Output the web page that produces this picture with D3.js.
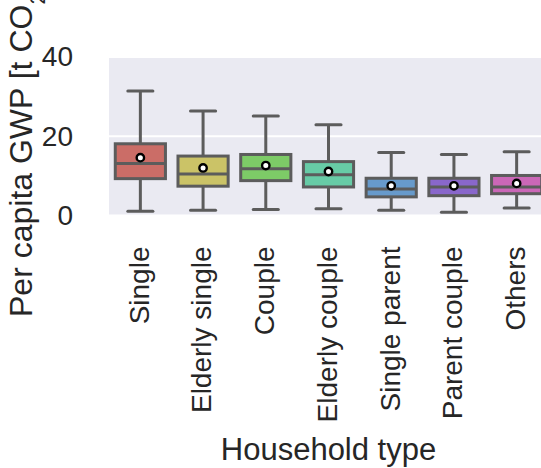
<!DOCTYPE html>
<html>
<head>
<meta charset="utf-8">
<script src="https://cdn.jsdelivr.net/npm/d3@7/dist/d3.min.js"></script>
<style>
  html, body { margin: 0; padding: 0; background: #ffffff; }
  svg { display: block; }
  text { font-family: "Liberation Sans", Arial, sans-serif; fill: #262626; }
</style>
</head>
<body>
<svg id="chart" width="541" height="468"></svg>
<script>
// Household categories and per-capita GWP box statistics (t CO2-eq)
const categories = ["Single", "Elderly single", "Couple", "Elderly couple", "Single parent", "Parent couple", "Others"];
const whiskerLow  = [1.1, 1.3, 1.5, 1.7, 1.3, 0.8, 1.9];
const quartile1   = [9.3, 7.4, 8.8, 7.2, 4.7, 5.0, 5.5];
const medians     = [13.1, 10.5, 11.8, 10.3, 6.7, 7.2, 7.2];
const quartile3   = [18.1, 15.0, 15.4, 13.6, 9.4, 9.4, 10.1];
const whiskerHigh = [31.4, 26.4, 25.1, 22.9, 15.9, 15.4, 16.1];
const means       = [14.6, 12.0, 12.6, 11.1, 7.5, 7.5, 8.1];
const yTicks      = [0, 20, 40];
const boxColors   = ["#cb6d67", "#cbc367", "#7dcb67", "#67cba6", "#679acb", "#8967cb", "#cb67b7"];

const svg = d3.select("#chart");
const plot = { left: 109, right: 548, top: 57, bottom: 215.5 };
const lineColor = "#5c5c5c";

const x = d3.scaleBand().domain(categories).range([plot.left, plot.right]).padding(0);
const y = d3.scaleLinear().domain([0, 40]).range([plot.bottom, plot.top]);

// plot background (seaborn darkgrid style)
svg.append("rect")
  .attr("x", plot.left).attr("y", plot.top)
  .attr("width", plot.right - plot.left).attr("height", plot.bottom - plot.top)
  .attr("fill", "#eaeaf2");

// horizontal grid lines
svg.append("g").selectAll("line").data(yTicks).join("line")
  .attr("x1", plot.left).attr("x2", plot.right)
  .attr("y1", d => y(d)).attr("y2", d => y(d))
  .attr("stroke", "#ffffff").attr("stroke-width", 2);

// y axis tick labels
const yAxis = d3.axisLeft(y).tickValues(yTicks).tickSize(0).tickPadding(36).tickFormat(d3.format("d"));
const yg = svg.append("g").attr("transform", `translate(${plot.left},0)`).call(yAxis);
yg.select(".domain").remove();
yg.selectAll("text").attr("font-size", 28).attr("fill", "#262626")
  .attr("font-family", "'Liberation Sans', Arial, sans-serif");

// x axis tick labels, rotated
const xAxis = d3.axisBottom(x).tickSize(0).tickPadding(0);
const xg = svg.append("g").attr("transform", `translate(0,${plot.bottom})`).call(xAxis);
xg.select(".domain").remove();
xg.selectAll("text")
  .attr("font-size", 28).attr("fill", "#262626")
  .attr("font-family", "'Liberation Sans', Arial, sans-serif")
  .attr("text-anchor", "end")
  .attr("y", null)
  .attr("transform", "translate(0,31) rotate(-90)")
  .attr("dy", "0.3em");

// boxes
const bw = x.bandwidth() * 0.8;
const boxes = svg.append("g").selectAll("g").data(categories).join("g")
  .attr("transform", d => `translate(${x(d) + x.bandwidth() / 2},0)`);

boxes.append("line")
  .attr("x1", 0).attr("x2", 0)
  .attr("y1", (d, i) => y(whiskerLow[i])).attr("y2", (d, i) => y(quartile1[i]))
  .attr("stroke", lineColor).attr("stroke-width", 3);
boxes.append("line")
  .attr("x1", 0).attr("x2", 0)
  .attr("y1", (d, i) => y(quartile3[i])).attr("y2", (d, i) => y(whiskerHigh[i]))
  .attr("stroke", lineColor).attr("stroke-width", 3);
boxes.append("line")
  .attr("x1", -bw / 4).attr("x2", bw / 4)
  .attr("y1", (d, i) => y(whiskerLow[i])).attr("y2", (d, i) => y(whiskerLow[i]))
  .attr("stroke", lineColor).attr("stroke-width", 3).attr("stroke-linecap", "round");
boxes.append("line")
  .attr("x1", -bw / 4).attr("x2", bw / 4)
  .attr("y1", (d, i) => y(whiskerHigh[i])).attr("y2", (d, i) => y(whiskerHigh[i]))
  .attr("stroke", lineColor).attr("stroke-width", 3).attr("stroke-linecap", "round");

boxes.append("rect")
  .attr("x", -bw / 2).attr("width", bw)
  .attr("y", (d, i) => y(quartile3[i]))
  .attr("height", (d, i) => y(quartile1[i]) - y(quartile3[i]))
  .attr("fill", (d, i) => boxColors[i])
  .attr("stroke", lineColor).attr("stroke-width", 3);

boxes.append("line")
  .attr("x1", -bw / 2).attr("x2", bw / 2)
  .attr("y1", (d, i) => y(medians[i])).attr("y2", (d, i) => y(medians[i]))
  .attr("stroke", lineColor).attr("stroke-width", 3);

// mean markers
boxes.append("circle")
  .attr("cx", 0).attr("cy", (d, i) => y(means[i]))
  .attr("r", 3.7)
  .attr("fill", "#ffffff").attr("stroke", "#000000").attr("stroke-width", 2.4);

// axis titles
svg.append("text")
  .attr("x", (plot.left + plot.right) / 2).attr("y", 460)
  .attr("text-anchor", "middle").attr("font-size", 31)
  .text("Household type");

svg.append("text")
  .attr("transform", "translate(32,317) rotate(-90)")
  .attr("text-anchor", "start").attr("font-size", 32)
  .html("Per capita GWP [t CO<tspan baseline-shift='sub' font-size='22'>2</tspan>-eq]");
</script>
</body>
</html>
